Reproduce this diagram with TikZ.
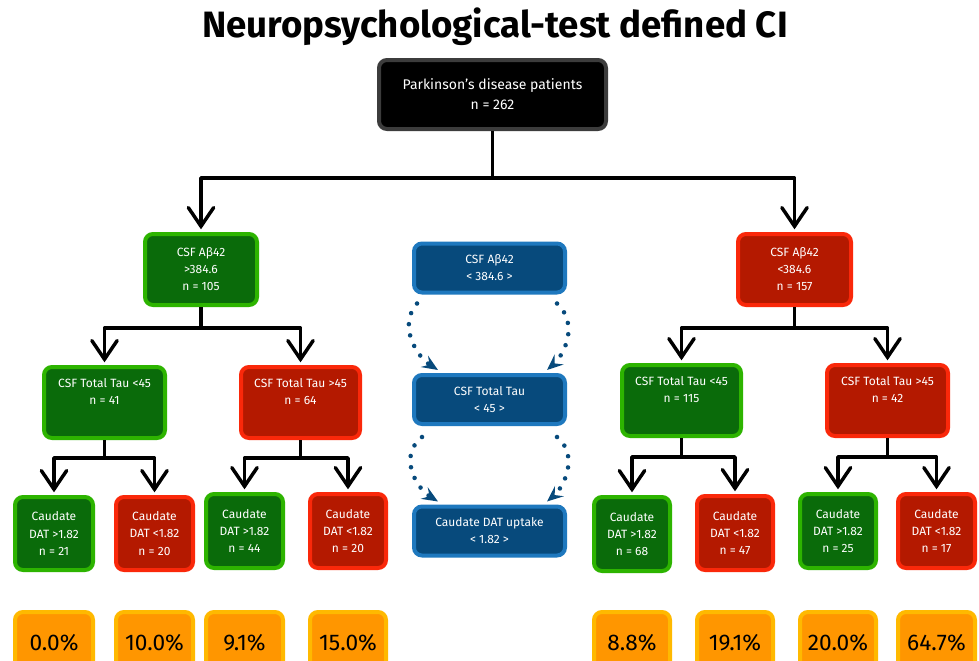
\documentclass[tikz,border=0pt]{standalone}
\usepackage{fontspec}
\setmainfont{Fira Sans}
\usetikzlibrary{arrows.meta}
\definecolor{gfill}{RGB}{10,107,10}
\definecolor{gline}{RGB}{45,180,0}
\definecolor{rfill}{RGB}{180,25,0}
\definecolor{rline}{RGB}{250,40,10}
\definecolor{bfill}{RGB}{7,74,124}
\definecolor{bline}{RGB}{30,120,190}
\definecolor{ofill}{RGB}{255,150,0}
\definecolor{oline}{RGB}{255,185,0}
\definecolor{kline}{RGB}{60,60,60}
\begin{document}
\begin{tikzpicture}[x=0.75pt,y=-0.75pt,
  box/.style={rounded corners=6pt,line width=3pt,align=center,text=white,
    font=\fontsize{9}{12.8}\selectfont,inner sep=1pt},
  sz/.style 2 args={minimum width=#1*0.75pt-3pt,minimum height=#2*0.75pt-3pt},
  gbox/.style={box,draw=gline,fill=gfill},
  rbox/.style={box,draw=rline,fill=rfill},
  bbox/.style={box,draw=bline,fill=bfill},
  kbox/.style={box,draw=kline,fill=black,font=\fontsize{10.5}{15}\selectfont},
  obox/.style={box,draw=oline,fill=ofill,text=black,font=\fontsize{17}{20}\selectfont},
  tree/.style={line width=2.8pt,line join=round,-{Straight Barb[length=14pt,width=19pt,line width=2.6pt,line cap=round]},shorten >=2pt},
  stem/.style={line width=2.8pt,line join=round},
  dots/.style={draw=bfill,line width=3.4pt,line cap=round,dash pattern=on 0pt off 8.5pt,
    -{Stealth[length=12pt,width=10pt,inset=4.5pt,fill=bfill]}}
]
\clip (0,0) rectangle (979,661);
\fill[white] (0,0) rectangle (979,661);

\node[font=\fontsize{27.5}{32}\selectfont\bfseries] (title) at (495,27) {Neuropsychological-test defined CI};

\node[kbox,sz={231}{73}] (root) at (492.5,94.5) {Parkinson’s disease patients\\n = 262};

\node[gbox,sz={116}{75}] (a1) at (201,269.5) {CSF Aβ42\\>384.6\\n = 105};
\node[rbox,sz={117}{75}] (a2) at (794.5,269.5) {CSF Aβ42\\<384.6\\n = 157};

\node[gbox,sz={125}{75}] (b1) at (104.5,402.5) {CSF Total Tau <45\\n = 41\\[4pt]};
\node[rbox,sz={123}{75}] (b2) at (300.5,402.5) {CSF Total Tau >45\\n = 64\\[4pt]};
\node[gbox,sz={123}{75}] (b3) at (681.5,400.5) {CSF Total Tau <45\\n = 115\\[4pt]};
\node[rbox,sz={125}{75}] (b4) at (887.5,400.5) {CSF Total Tau >45\\n = 42\\[4pt]};

\node[gbox,sz={82}{77}] (c1) at (54,533.5) {Caudate\\DAT >1.82\\n = 21};
\node[rbox,sz={81}{77}] (c2) at (154.5,533.5) {Caudate\\DAT <1.82\\n = 20};
\node[gbox,sz={81}{78}] (c3) at (244.5,531) {Caudate\\DAT >1.82\\n = 44};
\node[rbox,sz={80}{78}] (c4) at (348,531) {Caudate\\DAT <1.82\\n = 20};
\node[gbox,sz={80}{78}] (c5) at (632,534) {Caudate\\DAT >1.82\\n = 68};
\node[rbox,sz={80}{78}] (c6) at (735,533) {Caudate\\DAT <1.82\\n = 47};
\node[gbox,sz={80}{78}] (c7) at (838,531) {Caudate\\DAT >1.82\\n = 25};
\node[rbox,sz={81}{78}] (c8) at (936.5,531) {Caudate\\DAT <1.82\\n = 17};

\node[obox,sz={82}{66}] (p1) at (54,643) {0.0\%};
\node[obox,sz={81}{66}] (p2) at (154.5,643) {10.0\%};
\node[obox,sz={81}{66}] (p3) at (244.5,643) {9.1\%};
\node[obox,sz={80}{66}] (p4) at (348,643) {15.0\%};
\node[obox,sz={80}{66}] (p5) at (632,643) {8.8\%};
\node[obox,sz={80}{66}] (p6) at (735,643) {19.1\%};
\node[obox,sz={80}{66}] (p7) at (838,643) {20.0\%};
\node[obox,sz={81}{66}] (p8) at (936.5,643) {64.7\%};

\node[bbox,sz={155}{53}] (m1) at (489.5,268) {CSF Aβ42\\< 384.6 >};
\node[bbox,sz={155}{53}] (m2) at (489.5,399.5) {CSF Total Tau\\< 45 >};
\node[bbox,sz={155}{53}] (m3) at (489.5,531) {Caudate DAT uptake\\< 1.82 >};

% tree connectors
\path (root.south) ++(0,47) coordinate (j0);
\path (a1.south) ++(0,21) coordinate (j1);
\path (a2.south) ++(0,21) coordinate (j2);
\path (b1.south) ++(0,18) coordinate (j3);
\path (b2.south) ++(0,18) coordinate (j4);
\path (b3.south) ++(0,19) coordinate (j5);
\path (b4.south) ++(0,19) coordinate (j6);

\draw[stem] (root.south) -- (j0);
\draw[tree] (j0) -| (a1.north);
\draw[tree] (j0) -| (a2.north);
\draw[stem] (a1.south) -- (j1);
\draw[tree] (j1) -| (b1.north);
\draw[tree] (j1) -| (b2.north);
\draw[stem] (a2.south) -- (j2);
\draw[tree] (j2) -| (b3.north);
\draw[tree] (j2) -| (b4.north);
\draw[stem] (b1.south) -- (j3);
\draw[tree] (j3) -| (c1.north);
\draw[tree] (j3) -| (c2.north);
\draw[stem] (b2.south) -- (j4);
\draw[tree] (j4) -| (c3.north);
\draw[tree] (j4) -| (c4.north);
\draw[stem] (b3.south) -- (j5);
\draw[tree] (j5) -| (c5.north);
\draw[tree] (j5) -| (c6.north);
\draw[stem] (b4.south) -- (j6);
\draw[tree] (j6) -| (c7.north);
\draw[tree] (j6) -| (c8.north);

% dotted connectors
\draw[dots] ([shift={(5,9)}]m1.south west) .. controls (398,325) and (416,356) .. ([shift={(26,-3)}]m2.north west);
\draw[dots] ([shift={(-10,9)}]m1.south east) .. controls (580,325) and (563,356) .. ([shift={(-20,-3)}]m2.north east);
\draw[dots] ([shift={(10,11)}]m2.south west) .. controls (398,456) and (416,488) .. ([shift={(26,-3)}]m3.north west);
\draw[dots] ([shift={(-10,11)}]m2.south east) .. controls (580,456) and (563,488) .. ([shift={(-20,-3)}]m3.north east);
\end{tikzpicture}
\end{document}
